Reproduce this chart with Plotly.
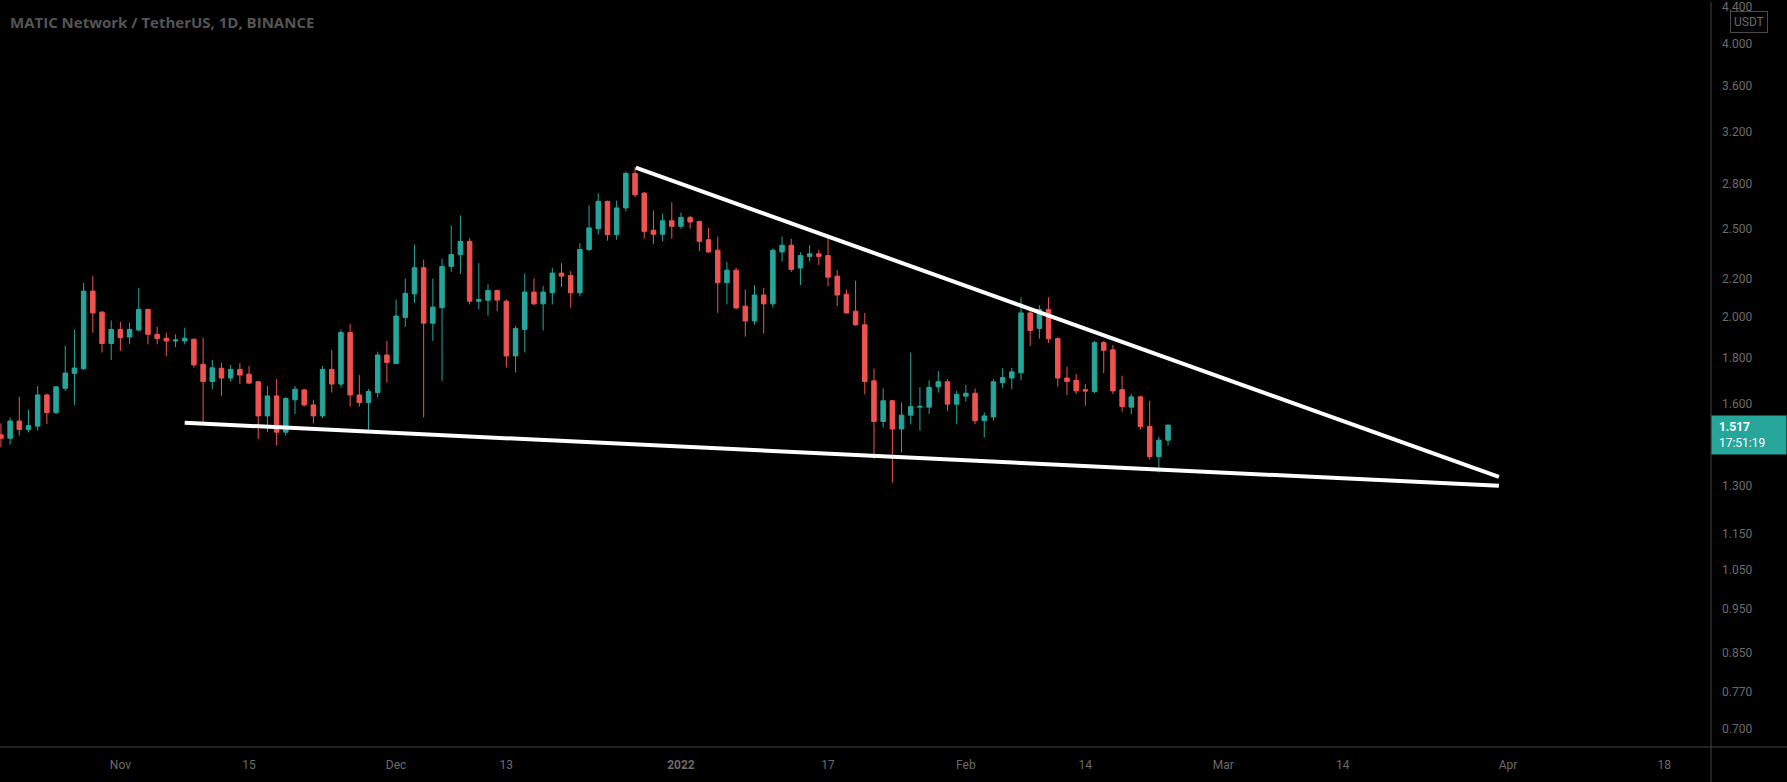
import pandas as pd
import numpy as np
import plotly.graph_objects as go

# ---------------- data ----------------
start_date = "2021-10-19"
end_date = "2022-02-23"

opens = [
    # Oct 19-31
    1.480, 1.467, 1.533, 1.500, 1.513, 1.638, 1.566, 1.666, 1.730, 1.751, 2.133, 2.022, 1.867,
    # Nov 1-30
    1.935, 1.898, 1.932, 2.036, 1.911, 1.892, 1.879, 1.879, 1.887, 1.771,
    1.695, 1.753, 1.710, 1.748, 1.727, 1.694, 1.553, 1.634, 1.490, 1.618,
    1.659, 1.597, 1.553, 1.748, 1.684, 1.920, 1.638, 1.607, 1.648, 1.813,
    # Dec 1-31
    1.774, 1.995, 2.118, 2.264, 1.966, 2.045, 2.271, 2.341, 2.421, 2.079,
    2.084, 2.137, 2.079, 1.809, 1.935, 2.128, 2.065, 2.124, 2.233, 2.220,
    2.124, 2.371, 2.500, 2.680, 2.463, 2.636, 2.877, 2.737, 2.490, 2.465, 2.551,
    # Jan 1-31
    2.515, 2.573, 2.547, 2.431, 2.367, 2.179, 2.250, 2.053, 1.977, 2.112,
    2.065, 2.356, 2.397, 2.262, 2.330, 2.345, 2.335, 2.216, 2.116, 2.027,
    1.958, 1.698, 1.531, 1.614, 1.502, 1.556, 1.588, 1.588, 1.672, 1.694, 1.600,
    # Feb 1-23
    1.633, 1.645, 1.534, 1.549, 1.690, 1.710, 1.733, 2.018, 1.940, 2.036,
    1.890, 1.710, 1.700, 1.660, 1.652, 1.871, 1.837, 1.660, 1.588, 1.630,
    1.512, 1.400, 1.460,
]
highs = [
    1.524, 1.547, 1.630, 1.577, 1.676, 1.644, 1.676, 1.856, 1.935, 2.179, 2.216, 2.027, 1.980,
    1.973, 1.968, 2.151, 2.040, 1.948, 1.919, 1.911, 1.943, 1.892, 1.895,
    1.790, 1.778, 1.768, 1.776, 1.763, 1.698, 1.676, 1.705, 1.630, 1.676,
    1.664, 1.618, 1.763, 1.836, 1.935, 1.962, 1.723, 1.662, 1.829, 1.879,
    2.088, 2.202, 2.401, 2.311, 2.202, 2.316, 2.521, 2.586, 2.440, 2.290,
    2.170, 2.140, 2.088, 1.952, 2.230, 2.204, 2.160, 2.264, 2.290, 2.244,
    2.410, 2.653, 2.736, 2.685, 2.685, 2.891, 2.925, 2.745, 2.618, 2.597, 2.674,
    2.605, 2.583, 2.550, 2.505, 2.450, 2.296, 2.264, 2.142, 2.166, 2.151,
    2.377, 2.450, 2.437, 2.355, 2.397, 2.370, 2.450, 2.250, 2.142, 2.190,
    2.018, 1.752, 1.666, 1.617, 1.607, 1.824, 1.670, 1.700, 1.741, 1.705, 1.655,
    1.680, 1.665, 1.567, 1.705, 1.753, 1.755, 2.100, 2.044, 2.058, 2.100,
    1.897, 1.760, 1.727, 1.684, 1.880, 1.879, 1.860, 1.720, 1.643, 1.635,
    1.614, 1.473, 1.520,
]
lows = [
    1.434, 1.444, 1.477, 1.489, 1.496, 1.521, 1.560, 1.655, 1.597, 1.745, 1.919, 1.825, 1.790,
    1.832, 1.863, 1.924, 1.863, 1.863, 1.809, 1.850, 1.863, 1.756, 1.527,
    1.662, 1.635, 1.695, 1.684, 1.684, 1.464, 1.490, 1.440, 1.477, 1.560,
    1.590, 1.524, 1.544, 1.648, 1.669, 1.590, 1.590, 1.496, 1.628, 1.690,
    1.771, 1.948, 2.070, 1.547, 1.879, 1.698, 2.240, 2.228, 2.062, 2.036,
    2.005, 2.027, 1.756, 1.734, 1.825, 2.058, 1.930, 2.062, 2.155, 2.045,
    2.105, 2.360, 2.463, 2.425, 2.430, 2.613, 2.710, 2.437, 2.404, 2.420, 2.437,
    2.500, 2.500, 2.361, 2.350, 2.018, 2.062, 2.036, 1.900, 1.958, 1.914,
    2.045, 2.301, 2.240, 2.166, 2.300, 2.280, 2.160, 2.053, 2.013, 1.953,
    1.640, 1.392, 1.508, 1.310, 1.415, 1.520, 1.496, 1.560, 1.648, 1.573, 1.520,
    1.610, 1.520, 1.470, 1.534, 1.668, 1.662, 1.700, 1.855, 1.890, 1.870,
    1.672, 1.638, 1.642, 1.593, 1.645, 1.732, 1.642, 1.570, 1.560, 1.500,
    1.390, 1.345, 1.440,
]
closes = [
    1.467, 1.533, 1.500, 1.515, 1.638, 1.566, 1.672, 1.732, 1.754, 2.133, 2.018, 1.867, 1.935,
    1.895, 1.935, 2.036, 1.911, 1.890, 1.879, 1.884, 1.892, 1.768, 1.695,
    1.755, 1.710, 1.748, 1.723, 1.688, 1.553, 1.634, 1.490, 1.623, 1.662,
    1.597, 1.553, 1.748, 1.684, 1.920, 1.638, 1.607, 1.652, 1.813, 1.779,
    2.002, 2.121, 2.264, 1.966, 2.048, 2.271, 2.341, 2.421, 2.079, 2.088,
    2.137, 2.085, 1.809, 1.939, 2.128, 2.065, 2.128, 2.233, 2.216, 2.124,
    2.371, 2.505, 2.680, 2.463, 2.636, 2.877, 2.725, 2.483, 2.465, 2.551, 2.515,
    2.573, 2.543, 2.421, 2.357, 2.179, 2.250, 2.044, 1.977, 2.112, 2.065,
    2.367, 2.397, 2.254, 2.335, 2.345, 2.330, 2.210, 2.112, 2.018, 1.958,
    1.695, 1.531, 1.614, 1.502, 1.556, 1.590, 1.591, 1.670, 1.694, 1.600, 1.640,
    1.645, 1.534, 1.553, 1.694, 1.712, 1.737, 2.018, 1.930, 2.036, 1.890,
    1.710, 1.695, 1.655, 1.654, 1.871, 1.835, 1.655, 1.590, 1.630, 1.511,
    1.400, 1.460, 1.517,
]

# trend lines drawn on the chart
upper_dates = ["2021-12-27 02:00", "2022-03-31"]
upper_prices = [2.92, 1.33]
lower_dates = ["2021-11-08", "2022-03-31"]
lower_prices = [1.526, 1.300]

# axis ticks
y_tickvals = [0.70, 0.77, 0.85, 0.95, 1.05, 1.15, 1.30, 1.60, 1.80, 2.00, 2.20, 2.50, 2.80, 3.20, 3.60, 4.00, 4.40]
y_ticktext = [f"{v:.3f}" for v in y_tickvals]
x_tickvals = ["2021-11-01", "2021-11-15", "2021-12-01", "2021-12-13", "2022-01-01", "2022-01-17",
              "2022-02-01", "2022-02-14", "2022-03-01", "2022-03-14", "2022-04-01", "2022-04-18"]
x_ticktext = ["Nov", "15", "Dec", "13", "<b>2022</b>", "17", "Feb", "14", "Mar", "14", "Apr", "18"]

last_price = 1.517
countdown = "17:51:19"
title_text = "MATIC Network / TetherUS, 1D, BINANCE"

dates = pd.date_range(start_date, end_date, freq="D")
assert len(dates) == len(opens) == len(highs) == len(lows) == len(closes)

# ---------------- figure ----------------
UP = "#26a69a"
DOWN = "#ef5350"
AXIS_TXT = "#6b6b6b"
SEP = "#444444"

fig = go.Figure()
fig.add_trace(go.Candlestick(
    x=dates, open=opens, high=highs, low=lows, close=closes,
    increasing=dict(line=dict(color=UP, width=1), fillcolor=UP),
    decreasing=dict(line=dict(color=DOWN, width=1), fillcolor=DOWN),
    whiskerwidth=0, hoverinfo="skip", showlegend=False,
))
fig.add_trace(go.Scatter(x=upper_dates, y=upper_prices, mode="lines",
                         line=dict(color="#ffffff", width=4), hoverinfo="skip", showlegend=False))
fig.add_trace(go.Scatter(x=lower_dates, y=lower_prices, mode="lines",
                         line=dict(color="#ffffff", width=4), hoverinfo="skip", showlegend=False))

fig.update_layout(
    width=1787, height=782,
    margin=dict(l=0, r=76, t=0, b=35),
    paper_bgcolor="#000000", plot_bgcolor="#000000",
    font=dict(family="Roboto, Liberation Sans, sans-serif", size=12, color=AXIS_TXT),
    showlegend=False,
    hovermode=False,
    xaxis=dict(
        type="date",
        range=["2021-10-18 21:36", "2022-04-23 01:55"],
        rangeslider=dict(visible=False),
        showgrid=False, zeroline=False, showline=False,
        tickvals=x_tickvals, ticktext=x_ticktext,
        ticks="", ticklabelstandoff=9,
        tickfont=dict(size=12, color=AXIS_TXT),
    ),
    yaxis=dict(
        type="log", side="right",
        range=[np.log10(0.669), np.log10(4.45)],
        showgrid=False, zeroline=False, showline=False,
        tickvals=y_tickvals, ticktext=y_ticktext,
        ticks="", ticklabelstandoff=10, ticklabeloverflow="allow",
        tickfont=dict(size=12, color=AXIS_TXT),
    ),
    shapes=[
        dict(type="line", xref="paper", yref="paper", x0=0, x1=1.05, y0=0, y1=0,
             line=dict(color=SEP, width=1)),
        dict(type="line", xref="paper", yref="paper", x0=1, x1=1, y0=-0.06, y1=1,
             line=dict(color=SEP, width=1)),
    ],
    annotations=[
        dict(xref="paper", yref="paper", x=0, y=1, xanchor="left", yanchor="middle",
             xshift=8, yshift=-20, showarrow=False,
             text=f"<b>{title_text}</b>",
             font=dict(family="Open Sans, sans-serif", size=15, color="#555555")),
        dict(xref="paper", yref="paper", x=1, y=1, xanchor="left", yanchor="top",
             xshift=19, yshift=-9, showarrow=False, text="USDT",
             font=dict(size=12, color="#6b6b6b"),
             bgcolor="#000000", bordercolor="#4a4a4a", borderwidth=1, borderpad=3),
        dict(xref="paper", yref="y", x=1, y=np.log10(last_price), xanchor="left", yanchor="top",
             yshift=10, showarrow=False, align="left",
             text=f"&nbsp;<b>{last_price:.3f}</b><br>&nbsp;{countdown}",
             font=dict(size=12, color="#ffffff"),
             bgcolor=UP, borderpad=4, width=66),
    ],
)

fig.write_html("out.html")
